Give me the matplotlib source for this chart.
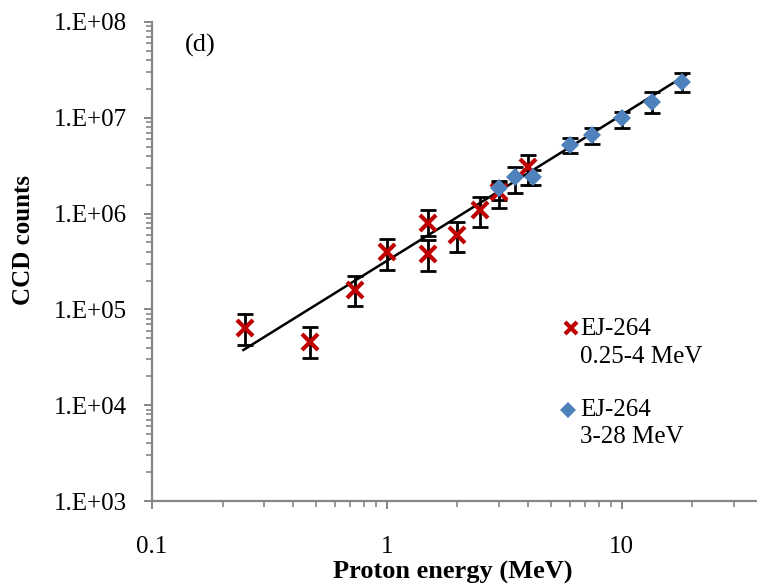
import numpy as np
import matplotlib
matplotlib.use("Agg")
import matplotlib.pyplot as plt
from matplotlib.ticker import LogLocator, FixedLocator, NullFormatter

# ---------------- data ----------------
red_x = [0.25, 0.47, 0.73, 1.0, 1.5, 1.5, 2.0, 2.5, 3.0, 4.0]
red_y = [6.4e4, 4.6e4, 1.6e5, 4.0e5, 8.0e5, 3.8e5, 6.0e5, 1.09e6, 1.7e6, 3.1e6]
red_lo = [4.25e4, 3.13e4, 1.08e5, 2.6e5, 5.8e5, 2.5e5, 4.0e5, 7.3e5, 1.15e6, 2.0e6]
red_hi = [8.95e4, 6.55e4, 2.25e5, 5.4e5, 1.09e6, 5.3e5, 8.2e5, 1.5e6, 2.1e6, 4.1e6]

blue_x = [3.0, 3.5, 4.2, 6.0, 7.5, 10.0, 13.5, 18.0]
blue_y = [1.84e6, 2.43e6, 2.43e6, 5.2e6, 6.6e6, 9.9e6, 1.47e7, 2.38e7]
blue_lo = [1.4e6, 1.65e6, 2.0e6, 4.27e6, 5.33e6, 7.8e6, 1.11e7, 1.88e7]
blue_hi = [2.2e6, 3.1e6, 2.85e6, 6.1e6, 7.8e6, 1.16e7, 1.88e7, 2.91e7]

fit_x = [0.245, 18.8]
fit_y = [3.77e4, 2.8e7]

x_ticks = [0.1, 1, 10]
x_ticklabels = ["0.1", "1", "10"]
y_ticks = [1e3, 1e4, 1e5, 1e6, 1e7, 1e8]
y_ticklabels = ["1.E+03", "1.E+04", "1.E+05", "1.E+06", "1.E+07", "1.E+08"]

legend_labels = [("EJ-264", "0.25-4 MeV"), ("EJ-264", "3-28 MeV")]
panel_label = "(d)"
x_label = "Proton energy (MeV)"
y_label = "CCD counts"

# ---------------- style ----------------
plt.rcParams['font.family'] = ['Liberation Serif', 'DejaVu Serif']
red = "#C00000"
blue = "#4F81BD"
axis_gray = "#868686"

W, H = 757, 587
fig = plt.figure(figsize=(W / 100, H / 100), dpi=100)
left_px, right_px, bottom_px, top_px = 152, 763, 501, 22
ax = fig.add_axes([left_px / W, (H - bottom_px) / H,
                   (right_px - left_px) / W, (bottom_px - top_px) / H])

ax.set_xscale('log')
ax.set_yscale('log')
ax.set_xlim(0.1, 40)
ax.set_ylim(1e3, 1e8)

# fit line
ax.plot(fit_x, fit_y, color='black', lw=1.8, zorder=3)

# error bars
def errs(y, lo, hi):
    y = np.asarray(y); lo = np.asarray(lo); hi = np.asarray(hi)
    return [y - lo, hi - y]

ax.errorbar(red_x, red_y, yerr=errs(red_y, red_lo, red_hi), fmt='none',
            ecolor='black', elinewidth=2, capsize=6, capthick=2, zorder=2)
ax.errorbar(blue_x, blue_y, yerr=errs(blue_y, blue_lo, blue_hi), fmt='none',
            ecolor='black', elinewidth=2, capsize=6, capthick=2, zorder=2)

ax.plot(red_x, red_y, linestyle='none', marker='x', ms=11, mew=3.0,
        color=red, zorder=4)
ax.plot(blue_x, blue_y, linestyle='none', marker='D', ms=9.5, mew=0,
        color=blue, zorder=5)

# spines
for s in ['top', 'right']:
    ax.spines[s].set_visible(False)
for s in ['left', 'bottom']:
    ax.spines[s].set_color(axis_gray)
    ax.spines[s].set_linewidth(1.6)

ax.xaxis.set_major_locator(FixedLocator(x_ticks))
ax.set_xticklabels(x_ticklabels)
ax.yaxis.set_major_locator(FixedLocator(y_ticks))
ax.set_yticklabels(y_ticklabels)
ax.xaxis.set_minor_locator(LogLocator(base=10, subs=np.arange(2, 10)))
ax.yaxis.set_minor_locator(LogLocator(base=10, subs=np.arange(2, 10)))
ax.xaxis.set_minor_formatter(NullFormatter())
ax.yaxis.set_minor_formatter(NullFormatter())

ax.tick_params(axis='both', which='major', direction='out', length=6, width=1.4,
               color=axis_gray, labelsize=18, labelcolor='black')
ax.tick_params(axis='both', which='minor', direction='out', length=4, width=1.2,
               color=axis_gray)
ax.tick_params(axis='x', which='major', pad=19)
ax.tick_params(axis='y', which='major', pad=12)

ax.set_xlabel(x_label, fontsize=19, fontweight='bold', labelpad=0)
ax.xaxis.set_label_coords((453 - left_px) / (right_px - left_px), -0.125)
ax.set_ylabel(y_label, fontsize=18, fontweight='bold')
ax.yaxis.set_label_coords((35 - left_px) / (right_px - left_px),
                          (bottom_px - 240) / (bottom_px - top_px))

# panel label
fig.text(200 / W, 1 - 45 / H, panel_label, fontsize=19, ha='center', va='center')

# legend (manual)
def fx(px):
    return px / W
def fy(py):
    return 1 - py / H

fig.lines.append(plt.Line2D([fx(571)], [fy(328)], marker='x', ms=9, mew=3,
                            color=red, linestyle='none', transform=fig.transFigure))
fig.lines.append(plt.Line2D([fx(568)], [fy(410)], marker='D', ms=8, mew=0,
                            color=blue, linestyle='none', transform=fig.transFigure))
for (l1, l2), y1, y2 in zip(legend_labels, [329, 410.5], [357, 437]):
    fig.text(fx(580), fy(y1), l1, fontsize=18, ha='left', va='center')
    fig.text(fx(580), fy(y2), l2, fontsize=18, ha='left', va='center')

fig.savefig("out.png", dpi=100)
